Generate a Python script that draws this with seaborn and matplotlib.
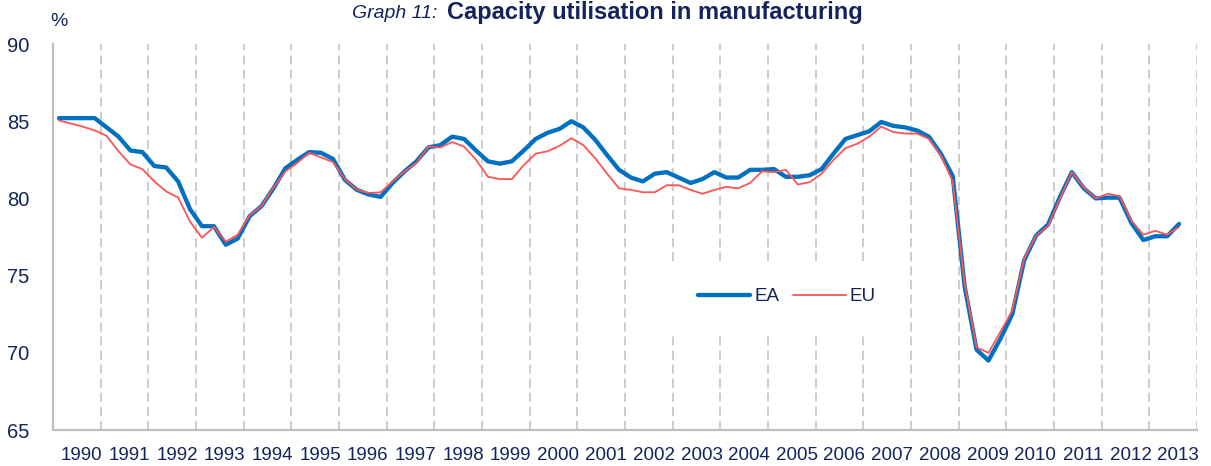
import numpy as np
import pandas as pd
import matplotlib
matplotlib.use("Agg")
import matplotlib.pyplot as plt
import matplotlib.transforms as mtransforms
import seaborn as sns

# ---------------- data (quarterly, 1990Q1 .. 2013Q3) ----------------
years = list(range(1990, 2014))
first_year = 1990
n_quarters = 95

ea = [85.2, 85.2, 85.2, 85.2,
      84.6, 84.0, 83.1, 83.0,
      82.1, 82.0, 81.1, 79.3,
      78.2, 78.2, 77.0, 77.4,
      78.85, 79.5, 80.65, 81.95,
      82.5, 83.0, 82.95, 82.55,
      81.2, 80.55, 80.25, 80.1,
      81.0, 81.75, 82.4, 83.3,
      83.45, 84.0, 83.85, 83.1,
      82.4, 82.25, 82.4, 83.1,
      83.85, 84.25, 84.5, 85.0,
      84.6, 83.8, 82.8, 81.85,
      81.35, 81.1, 81.6, 81.7,
      81.35, 81.0, 81.25, 81.7,
      81.35, 81.35, 81.85, 81.85,
      81.9, 81.4, 81.4, 81.5,
      81.9, 82.9, 83.85, 84.1,
      84.35, 84.95, 84.7, 84.6,
      84.4, 84.0, 82.9, 81.45,
      74.3, 70.2, 69.5, 70.9,
      72.5, 76.0, 77.6, 78.3,
      80.1, 81.7, 80.65, 80.0,
      80.05, 80.05, 78.4, 77.3,
      77.55, 77.55, 78.35]

eu = [85.05, 84.85, 84.65, 84.4,
      84.05, 83.05, 82.2, 81.9,
      81.1, 80.45, 80.05, 78.5,
      77.45, 78.15, 77.2, 77.65,
      78.9, 79.5, 80.7, 81.75,
      82.3, 82.95, 82.65, 82.35,
      81.25, 80.55, 80.35, 80.4,
      81.1, 81.75, 82.3, 83.35,
      83.3, 83.65, 83.35, 82.5,
      81.4, 81.25, 81.25, 82.15,
      82.9, 83.05, 83.4, 83.9,
      83.45, 82.6, 81.6, 80.65,
      80.55, 80.4, 80.4, 80.85,
      80.85, 80.55, 80.3, 80.55,
      80.75, 80.65, 81.0, 81.75,
      81.7, 81.85, 80.9, 81.05,
      81.6, 82.5, 83.25, 83.55,
      84.0, 84.65, 84.3, 84.2,
      84.2, 83.85, 82.8, 81.1,
      74.5, 70.35, 70.0, 71.35,
      72.75, 76.1, 77.6, 78.2,
      80.0, 81.7, 80.7, 80.0,
      80.3, 80.15, 78.55, 77.65,
      77.9, 77.65, 78.15]

series_names = ["EA", "EU"]
y_ticks = [65, 70, 75, 80, 85, 90]
title_prefix = "Graph 11:"
title_main = "Capacity utilisation in manufacturing"
y_unit = "%"

# time position of each quarter (middle of the quarter, in years since 1990)
q_index = np.arange(n_quarters)
t = (q_index + 0.5) / 4.0

df = pd.DataFrame({
    "t": np.concatenate([t, t]),
    "value": np.concatenate([ea, eu]),
    "series": ["EA"] * n_quarters + ["EU"] * n_quarters,
})

# ---------------- style ----------------
sns.set_theme(style="white")
plt.rcParams["font.family"] = ["Liberation Sans", "DejaVu Sans"]

navy = "#13235B"
ea_col = "#0070C0"
eu_col = "#FF5454"
grid_col = "#BFBFBF"
tick_fs = 13.5

fig = plt.figure(figsize=(12.11, 4.66), dpi=100)
ax = fig.add_axes([53 / 1211, 1 - 430 / 466, (1197 - 53) / 1211, (430 - 44) / 466])

sns.lineplot(data=df[df.series == "EA"], x="t", y="value", ax=ax,
             color=ea_col, linewidth=3.1, label="EA", zorder=4)
sns.lineplot(data=df[df.series == "EU"], x="t", y="value", ax=ax,
             color=eu_col, linewidth=1.3, label="EU", zorder=5)

ax.set_xlim(0, len(years))
ax.set_ylim(65, 90)
ax.set_xlabel("")
ax.set_ylabel("")

# year boundaries: dashed gridlines
ax.set_xticks(np.arange(1, len(years) + 1))
ax.set_xticklabels([])
ax.xaxis.grid(True, color=grid_col, linestyle=(0, (6, 3.2)), linewidth=1.1, zorder=0)
ax.yaxis.grid(False)
# year labels centered in the year
ax.set_xticks(np.arange(len(years)) + 0.5, minor=True)
ax.set_xticklabels([str(y) for y in years], minor=True)
ax.tick_params(axis="x", which="both", length=0)
ax.tick_params(axis="x", which="minor", pad=12, labelsize=tick_fs, labelcolor=navy)
offset = mtransforms.ScaledTranslation(5 / 100, 0, fig.dpi_scale_trans)
for lab in ax.xaxis.get_minorticklabels():
    lab.set_transform(lab.get_transform() + offset)

ax.set_yticks(y_ticks)
ax.set_yticklabels([str(v) for v in y_ticks])
ax.tick_params(axis="y", length=0, pad=17, labelsize=14.5, labelcolor=navy)

for s in ["top", "right"]:
    ax.spines[s].set_visible(False)
for s in ["left", "bottom"]:
    ax.spines[s].set_color(grid_col)
    ax.spines[s].set_linewidth(1.6)

leg = ax.legend(loc="center left", bbox_to_anchor=(0.54, 0.345), ncol=2,
                frameon=True, fontsize=tick_fs, handlelength=2.8, handletextpad=0.2,
                columnspacing=0.75, borderpad=1.45, borderaxespad=0)
leg.get_frame().set_facecolor("white")
leg.get_frame().set_edgecolor("none")
leg.get_frame().set_alpha(1)
leg.set_zorder(10)
for txt in leg.get_texts():
    txt.set_color(navy)

# title
fig.text(437 / 1211, 1 - 13 / 466, title_prefix, ha="right", va="center",
         fontsize=14, style="italic", color=navy)
fig.text(447 / 1211, 1 - 13 / 466, title_main, ha="left", va="center",
         fontsize=17, fontweight="bold", color=navy)
fig.text(59 / 1211, 1 - 21 / 466, y_unit, ha="center", va="center",
         fontsize=14, color=navy)

fig.savefig("out.png", dpi=100)
